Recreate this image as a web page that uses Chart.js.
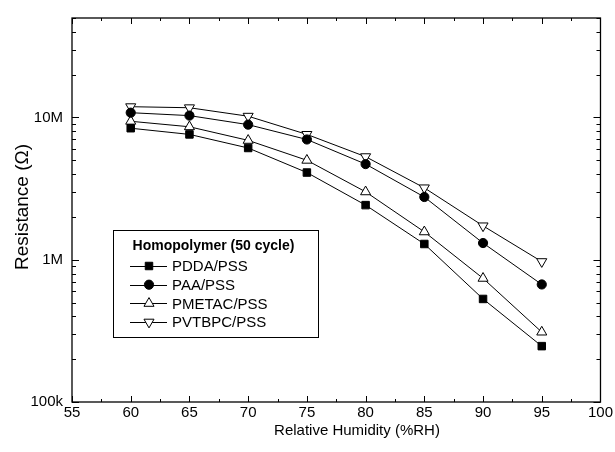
<!DOCTYPE html>
<html>
<head>
<meta charset="utf-8">
<script src="https://cdn.jsdelivr.net/npm/chart.js@4.4.1/dist/chart.umd.min.js"></script>
<style>
  html, body { margin: 0; padding: 0; background: #fff; }
  #wrap { width: 615px; height: 452px; position: relative; }
</style>
</head>
<body>
<div id="wrap"><canvas id="rhChart" width="615" height="452"></canvas></div>
<script>
// relative humidity (%RH)
const humidity = [60, 65, 70, 75, 80, 85, 90, 95];

// resistance (ohm)
const pddaPss = [8.4e6, 7.6e6, 6.1e6, 4.1e6, 2.42e6, 1.29e6, 5.3e5, 2.47e5];
const paaPss = [1.08e7, 1.03e7, 8.9e6, 7.0e6, 4.7e6, 2.76e6, 1.31e6, 6.7e5];
const pmetacPss = [9.4e6, 8.6e6, 6.9e6, 5.0e6, 3.0e6, 1.57e6, 7.4e5, 3.1e5];
const pvtbpcPss = [1.19e7, 1.17e7, 1.02e7, 7.6e6, 5.3e6, 3.2e6, 1.73e6, 9.7e5];

const xTicks = [55, 60, 65, 70, 75, 80, 85, 90, 95, 100];
const yTicks = [1e5, 1e6, 1e7];
const yTickLabels = ["100k", "1M", "10M"];

const legendTitle = "Homopolymer (50 cycle)";
const xTitle = "Relative Humidity (%RH)";
const yTitle = "Resistance (\u03A9)";

const FONT = "'Liberation Sans', Arial, sans-serif";

function toPoints(values) {
  return humidity.map((h, i) => ({ x: h, y: values[i] }));
}

function makeSet(label, values, style, fill, radius, rotation) {
  return {
    label,
    data: toPoints(values),
    showLine: true,
    borderColor: "#000",
    borderWidth: 1,
    pointStyle: style,
    pointRotation: rotation || 0,
    pointRadius: radius,
    pointHoverRadius: radius,
    pointBorderColor: "#000",
    pointBorderWidth: 1,
    pointBackgroundColor: fill,
    backgroundColor: fill,
    tension: 0
  };
}

function drawMarker(ctx, ds, x, y) {
  const r = ds.pointRadius;
  ctx.save();
  ctx.fillStyle = ds.pointBackgroundColor;
  ctx.strokeStyle = ds.pointBorderColor;
  ctx.lineWidth = ds.pointBorderWidth;
  ctx.beginPath();
  if (ds.pointStyle === "rect") {
    const s = Math.SQRT1_2 * r;
    ctx.rect(x - s, y - s, 2 * s, 2 * s);
  } else if (ds.pointStyle === "triangle") {
    let rad = (ds.pointRotation || 0) * Math.PI / 180;
    ctx.moveTo(x + Math.sin(rad) * r, y - Math.cos(rad) * r);
    rad += 2 * Math.PI / 3;
    ctx.lineTo(x + Math.sin(rad) * r, y - Math.cos(rad) * r);
    rad += 2 * Math.PI / 3;
    ctx.lineTo(x + Math.sin(rad) * r, y - Math.cos(rad) * r);
    ctx.closePath();
  } else {
    ctx.arc(x, y, r, 0, Math.PI * 2);
  }
  ctx.fill();
  ctx.stroke();
  ctx.restore();
}

// frame with inward ticks on all four sides, axis titles and the boxed legend
const framePlugin = {
  id: "frame",
  afterDraw(chart) {
    const { ctx, chartArea: a, scales } = chart;
    const xs = scales.x;
    const ys = scales.y;
    ctx.save();
    ctx.strokeStyle = "#000";
    ctx.lineWidth = 1.3;
    ctx.strokeRect(a.left, a.top, a.right - a.left, a.bottom - a.top);

    ctx.lineWidth = 1;
    ctx.beginPath();
    for (let v = 55; v <= 100; v += 2.5) {
      const px = Math.round(xs.getPixelForValue(v)) + 0.5;
      const len = v % 5 === 0 ? 6 : 3;
      ctx.moveTo(px, a.bottom); ctx.lineTo(px, a.bottom - len);
      ctx.moveTo(px, a.top); ctx.lineTo(px, a.top + len);
    }
    for (let d = 1e5; d < 1e8; d *= 10) {
      for (let m = 1; m <= 9; m++) {
        const v = d * m;
        if (v > ys.max) break;
        const py = Math.round(ys.getPixelForValue(v)) + 0.5;
        const len = m === 1 ? 7 : 4;
        ctx.moveTo(a.left, py); ctx.lineTo(a.left + len, py);
        ctx.moveTo(a.right, py); ctx.lineTo(a.right - len, py);
      }
    }
    ctx.stroke();

    // axis titles
    ctx.fillStyle = "#000";
    ctx.font = "15px " + FONT;
    ctx.textAlign = "center";
    ctx.textBaseline = "middle";
    ctx.fillText(xTitle, 357, 431);
    ctx.save();
    ctx.translate(23, 207);
    ctx.rotate(-Math.PI / 2);
    ctx.font = "19px " + FONT;
    ctx.fillText(yTitle, 0, 0);
    ctx.restore();

    // legend
    const box = { x: 113, y: 230, w: 205, h: 107 };
    ctx.lineWidth = 1;
    ctx.strokeRect(box.x + 0.5, box.y + 0.5, box.w, box.h);
    ctx.font = "bold 14px " + FONT;
    ctx.textAlign = "center";
    ctx.fillText(legendTitle, box.x + box.w / 2 - 2, 246);
    ctx.font = "15px " + FONT;
    ctx.textAlign = "left";
    chart.data.datasets.forEach((ds, i) => {
      const y = 266 + i * 18.7;
      ctx.beginPath();
      ctx.moveTo(130, Math.round(y) + 0.5);
      ctx.lineTo(167, Math.round(y) + 0.5);
      ctx.stroke();
      drawMarker(ctx, ds, 149, y);
      ctx.fillText(ds.label, 172, y + 1);
    });
    ctx.restore();
  }
};

const canvas = document.getElementById("rhChart");
new Chart(canvas, {
  type: "scatter",
  data: {
    datasets: [
      makeSet("PDDA/PSS", pddaPss, "rect", "#000", 5.3),
      makeSet("PAA/PSS", paaPss, "circle", "#000", 4.6),
      makeSet("PMETAC/PSS", pmetacPss, "triangle", "#fff", 5.8),
      makeSet("PVTBPC/PSS", pvtbpcPss, "triangle", "#fff", 5.8, 180)
    ]
  },
  options: {
    responsive: false,
    animation: false,
    layout: { padding: { top: 15, right: 13, left: 0, bottom: 0 } },
    plugins: {
      legend: { display: false },
      tooltip: { enabled: false }
    },
    scales: {
      x: {
        type: "linear",
        min: 55,
        max: 100,
        afterFit(scale) { scale.height = 50; },
        afterBuildTicks(scale) { scale.ticks = xTicks.map((v) => ({ value: v })); },
        grid: { display: false, drawTicks: false },
        border: { display: false },
        ticks: {
          color: "#000",
          padding: 2,
          maxRotation: 0,
          autoSkip: false,
          font: { family: FONT, size: 15 }
        }
      },
      y: {
        type: "logarithmic",
        min: 1e5,
        max: 5e7,
        afterFit(scale) { scale.width = 72; },
        afterBuildTicks(scale) { scale.ticks = yTicks.map((v) => ({ value: v })); },
        grid: { display: false, drawTicks: false },
        border: { display: false },
        ticks: {
          color: "#000",
          padding: 9,
          autoSkip: false,
          font: { family: FONT, size: 15 },
          callback(value) {
            const i = yTicks.indexOf(value);
            return i >= 0 ? yTickLabels[i] : "";
          }
        }
      }
    }
  },
  plugins: [framePlugin]
});
</script>
</body>
</html>
